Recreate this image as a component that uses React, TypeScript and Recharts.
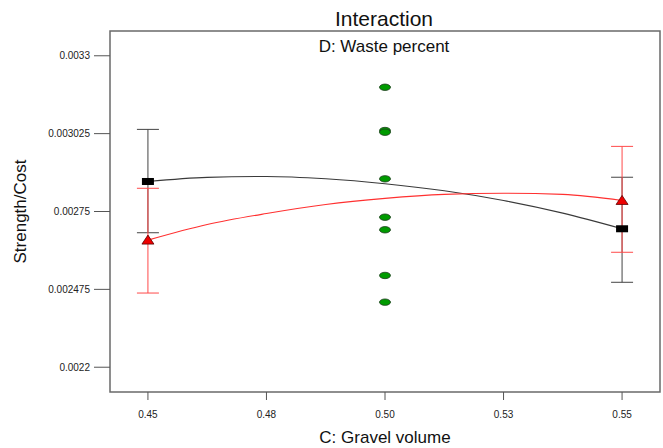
import React from 'react'
import {
  ScatterChart, Scatter, XAxis, YAxis, ErrorBar, ReferenceArea,
} from 'recharts'

// design levels of C: Gravel volume
const xLevels = [0.45, 0.55]
const xTicks = [0.45, 0.475, 0.5, 0.525, 0.55]
const xTickLabels = ['0.45', '0.48', '0.50', '0.53', '0.55']
const yTicks = [0.0022, 0.002475, 0.00275, 0.003025, 0.0033]
const yTickLabels = ['0.0022', '0.002475', '0.00275', '0.003025', '0.0033']

// D low (black squares) and D high (red triangles), with LSD bars
const blackMeans = [0.002856, 0.002689]
const blackLow = [0.002675, 0.0025]
const blackHigh = [0.00304, 0.002871]
const redMeans = [0.002649, 0.002789]
const redLow = [0.002462, 0.002606]
const redHigh = [0.002832, 0.00298]

// fitted curves
const curveX = [0.45, 0.4625, 0.475, 0.4875, 0.5, 0.5125, 0.525, 0.5375, 0.55]
const blackCurve = [0.002856, 0.0028705, 0.0028736, 0.0028654, 0.0028481, 0.0028231, 0.0027888, 0.0027442, 0.002689]
const redCurve = [0.002649, 0.0027041, 0.0027429, 0.0027747, 0.0027962, 0.0028104, 0.0028146, 0.0028104, 0.002789]

// center point runs
const centerX = 0.5
const centerRuns = [0.0031888, 0.003036, 0.00303, 0.0028654, 0.0027299, 0.0026854, 0.0025241, 0.0024298]

const xDomain = [0.442, 0.558]
const yDomain = [0.0021125, 0.0033875]

const font = '"Liberation Sans", Arial, sans-serif'

const blackPts = xLevels.map((x, i) => ({ x, y: blackMeans[i], err: [blackMeans[i] - blackLow[i], blackHigh[i] - blackMeans[i]] }))
const redPts = xLevels.map((x, i) => ({ x, y: redMeans[i], err: [redMeans[i] - redLow[i], redHigh[i] - redMeans[i]] }))
const blackLine = curveX.map((x, i) => ({ x, y: blackCurve[i] }))
const redLine = curveX.map((x, i) => ({ x, y: redCurve[i] }))
const greenPts = centerRuns.map(y => ({ x: centerX, y }))

const Nothing = () => <g />

const Square = (p: any) => <rect x={p.cx - 6} y={p.cy - 3.5} width={12} height={7} fill="#000" />
const Triangle = (p: any) => (
  <polygon points={`${p.cx - 6},${p.cy + 4} ${p.cx + 6},${p.cy + 4} ${p.cx},${p.cy - 5}`} fill="#ee0000" stroke="#5a0000" strokeWidth={0.8} />
)
const Dot = (p: any) => <ellipse cx={p.cx} cy={p.cy} rx={5.5} ry={3.2} fill="#009a00" stroke="#1e3d1e" strokeWidth={0.8} />

export default function App() {
  return (
    <div style={{ position: 'absolute', left: 0, top: 0, width: 663, height: 448, background: '#fff', fontFamily: font }}>
      <ScatterChart width={663} height={448} margin={{ top: 31, right: 3, bottom: 0, left: 0 }}>
        <XAxis
          type="number" dataKey="x" domain={xDomain} allowDataOverflow ticks={xTicks}
          tickFormatter={(v, i) => xTickLabels[i]} axisLine={false}
          tickSize={8} tickMargin={11} height={56}
          tickLine={{ stroke: '#555' }}
          tick={{ fill: '#222', fontSize: 10, fontFamily: font }}
          label={{ value: 'C: Gravel volume', position: 'insideBottom', offset: 5, fill: '#111', fontSize: 17, fontFamily: font }}
        />
        <YAxis
          type="number" dataKey="y" domain={yDomain} allowDataOverflow ticks={yTicks}
          tickFormatter={(v, i) => yTickLabels[i]} axisLine={false}
          tickSize={16} tickMargin={4} width={110}
          tickLine={{ stroke: '#555' }}
          tick={{ fill: '#222', fontSize: 10, fontFamily: font }}
          label={{ value: 'Strength/Cost', angle: -90, position: 'insideLeft', offset: 20, fill: '#111', fontSize: 17, fontFamily: font, style: { textAnchor: 'middle' } }}
        />
        <ReferenceArea x1={xDomain[0]} x2={xDomain[1]} y1={yDomain[0]} y2={yDomain[1]} fill="none" stroke="#6a6a6a" strokeWidth={1.5} />
        <Scatter data={blackLine} line={{ stroke: '#3a3a3a', strokeWidth: 1.1 }} lineType="joint" lineJointType="monotoneX" shape={Nothing} isAnimationActive={false} />
        <Scatter data={redLine} line={{ stroke: '#ff3030', strokeWidth: 1.1 }} lineType="joint" lineJointType="monotoneX" shape={Nothing} isAnimationActive={false} />
        <Scatter data={blackPts} shape={Nothing} isAnimationActive={false}>
          <ErrorBar dataKey="err" direction="y" width={11} stroke="#444" strokeWidth={1} isAnimationActive={false} />
        </Scatter>
        <Scatter data={redPts} shape={Nothing} isAnimationActive={false}>
          <ErrorBar dataKey="err" direction="y" width={11} stroke="#ff4a4a" strokeWidth={1} isAnimationActive={false} />
        </Scatter>
        <Scatter data={blackPts} shape={Square} isAnimationActive={false} />
        <Scatter data={redPts} shape={Triangle} isAnimationActive={false} />
        <Scatter data={greenPts} shape={Dot} isAnimationActive={false} />
      </ScatterChart>
      <svg width={663} height={448} style={{ position: 'absolute', left: 0, top: 0, pointerEvents: 'none' }}>
        <text x={384} y={25.5} textAnchor="middle" fontSize={21} fill="#111" fontFamily={font}>Interaction</text>
        <text x={384} y={51.5} textAnchor="middle" fontSize={17} fill="#111" fontFamily={font}>D: Waste percent</text>
      </svg>
    </div>
  )
}
